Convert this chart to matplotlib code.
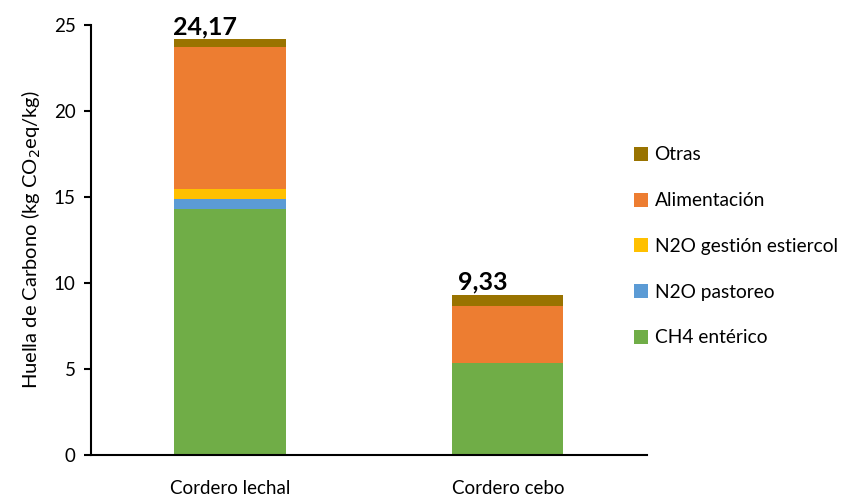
import numpy as np
import matplotlib
matplotlib.use("Agg")
import matplotlib.pyplot as plt

plt.rcParams['font.family'] = ['Lato', 'DejaVu Sans']

categories = ["Cordero lechal", "Cordero cebo"]
ch4_enterico = [14.30, 5.33]
n2o_pastoreo = [0.58, 0.00]
n2o_gestion = [0.57, 0.00]
alimentacion = [8.29, 3.33]
otras = [0.43, 0.67]
totales = [24.17, 9.33]

series = [
    ("CH4 entérico", ch4_enterico, "#70AD47"),
    ("N2O pastoreo", n2o_pastoreo, "#5B9BD5"),
    ("N2O gestión estiercol", n2o_gestion, "#FFC000"),
    ("Alimentación", alimentacion, "#ED7D31"),
    ("Otras", otras, "#997300"),
]

fig = plt.figure(figsize=(8.63, 4.98), dpi=100)
ax = fig.add_axes([0.1055, 0.0863, 0.644, 0.8635])

x = np.arange(len(categories))
bottom = np.zeros(len(categories))
handles = []
for name, vals, col in series:
    b = ax.bar(x, vals, width=0.4, bottom=bottom, color=col, label=name)
    handles.append(b)
    bottom += np.array(vals)

# total labels above each stack
for xi, tot in zip(x, totales):
    ax.text(xi - 0.09, tot + 0.05, f"{tot:.2f}".replace(".", ","),
            ha="center", va="bottom", fontsize=18, fontweight="bold")

ax.set_xlim(-0.5, 1.5)
ax.set_ylim(0, 25)
ax.set_yticks([0, 5, 10, 15, 20, 25])
ax.set_xticks(x)
ax.set_xticklabels(categories, fontsize=13.5)
ax.tick_params(axis="x", length=0, pad=18)
ax.tick_params(axis="y", labelsize=13.5, length=5, width=1.5, direction="out", pad=6)
for s in ["top", "right"]:
    ax.spines[s].set_visible(False)
for s in ["left", "bottom"]:
    ax.spines[s].set_linewidth(1.5)

ax.set_ylabel("Huella de Carbono (kg CO$_2$eq/kg)", fontsize=14.5, labelpad=8)

leg = ax.legend(handles[::-1], [s[0] for s in series][::-1],
                loc="center left", bbox_to_anchor=(0.945, 0.485),
                frameon=False, fontsize=13.8, labelspacing=1.5,
                handlelength=0.75, handleheight=0.75, handletextpad=0.35)

fig.savefig("out.png", dpi=100)
